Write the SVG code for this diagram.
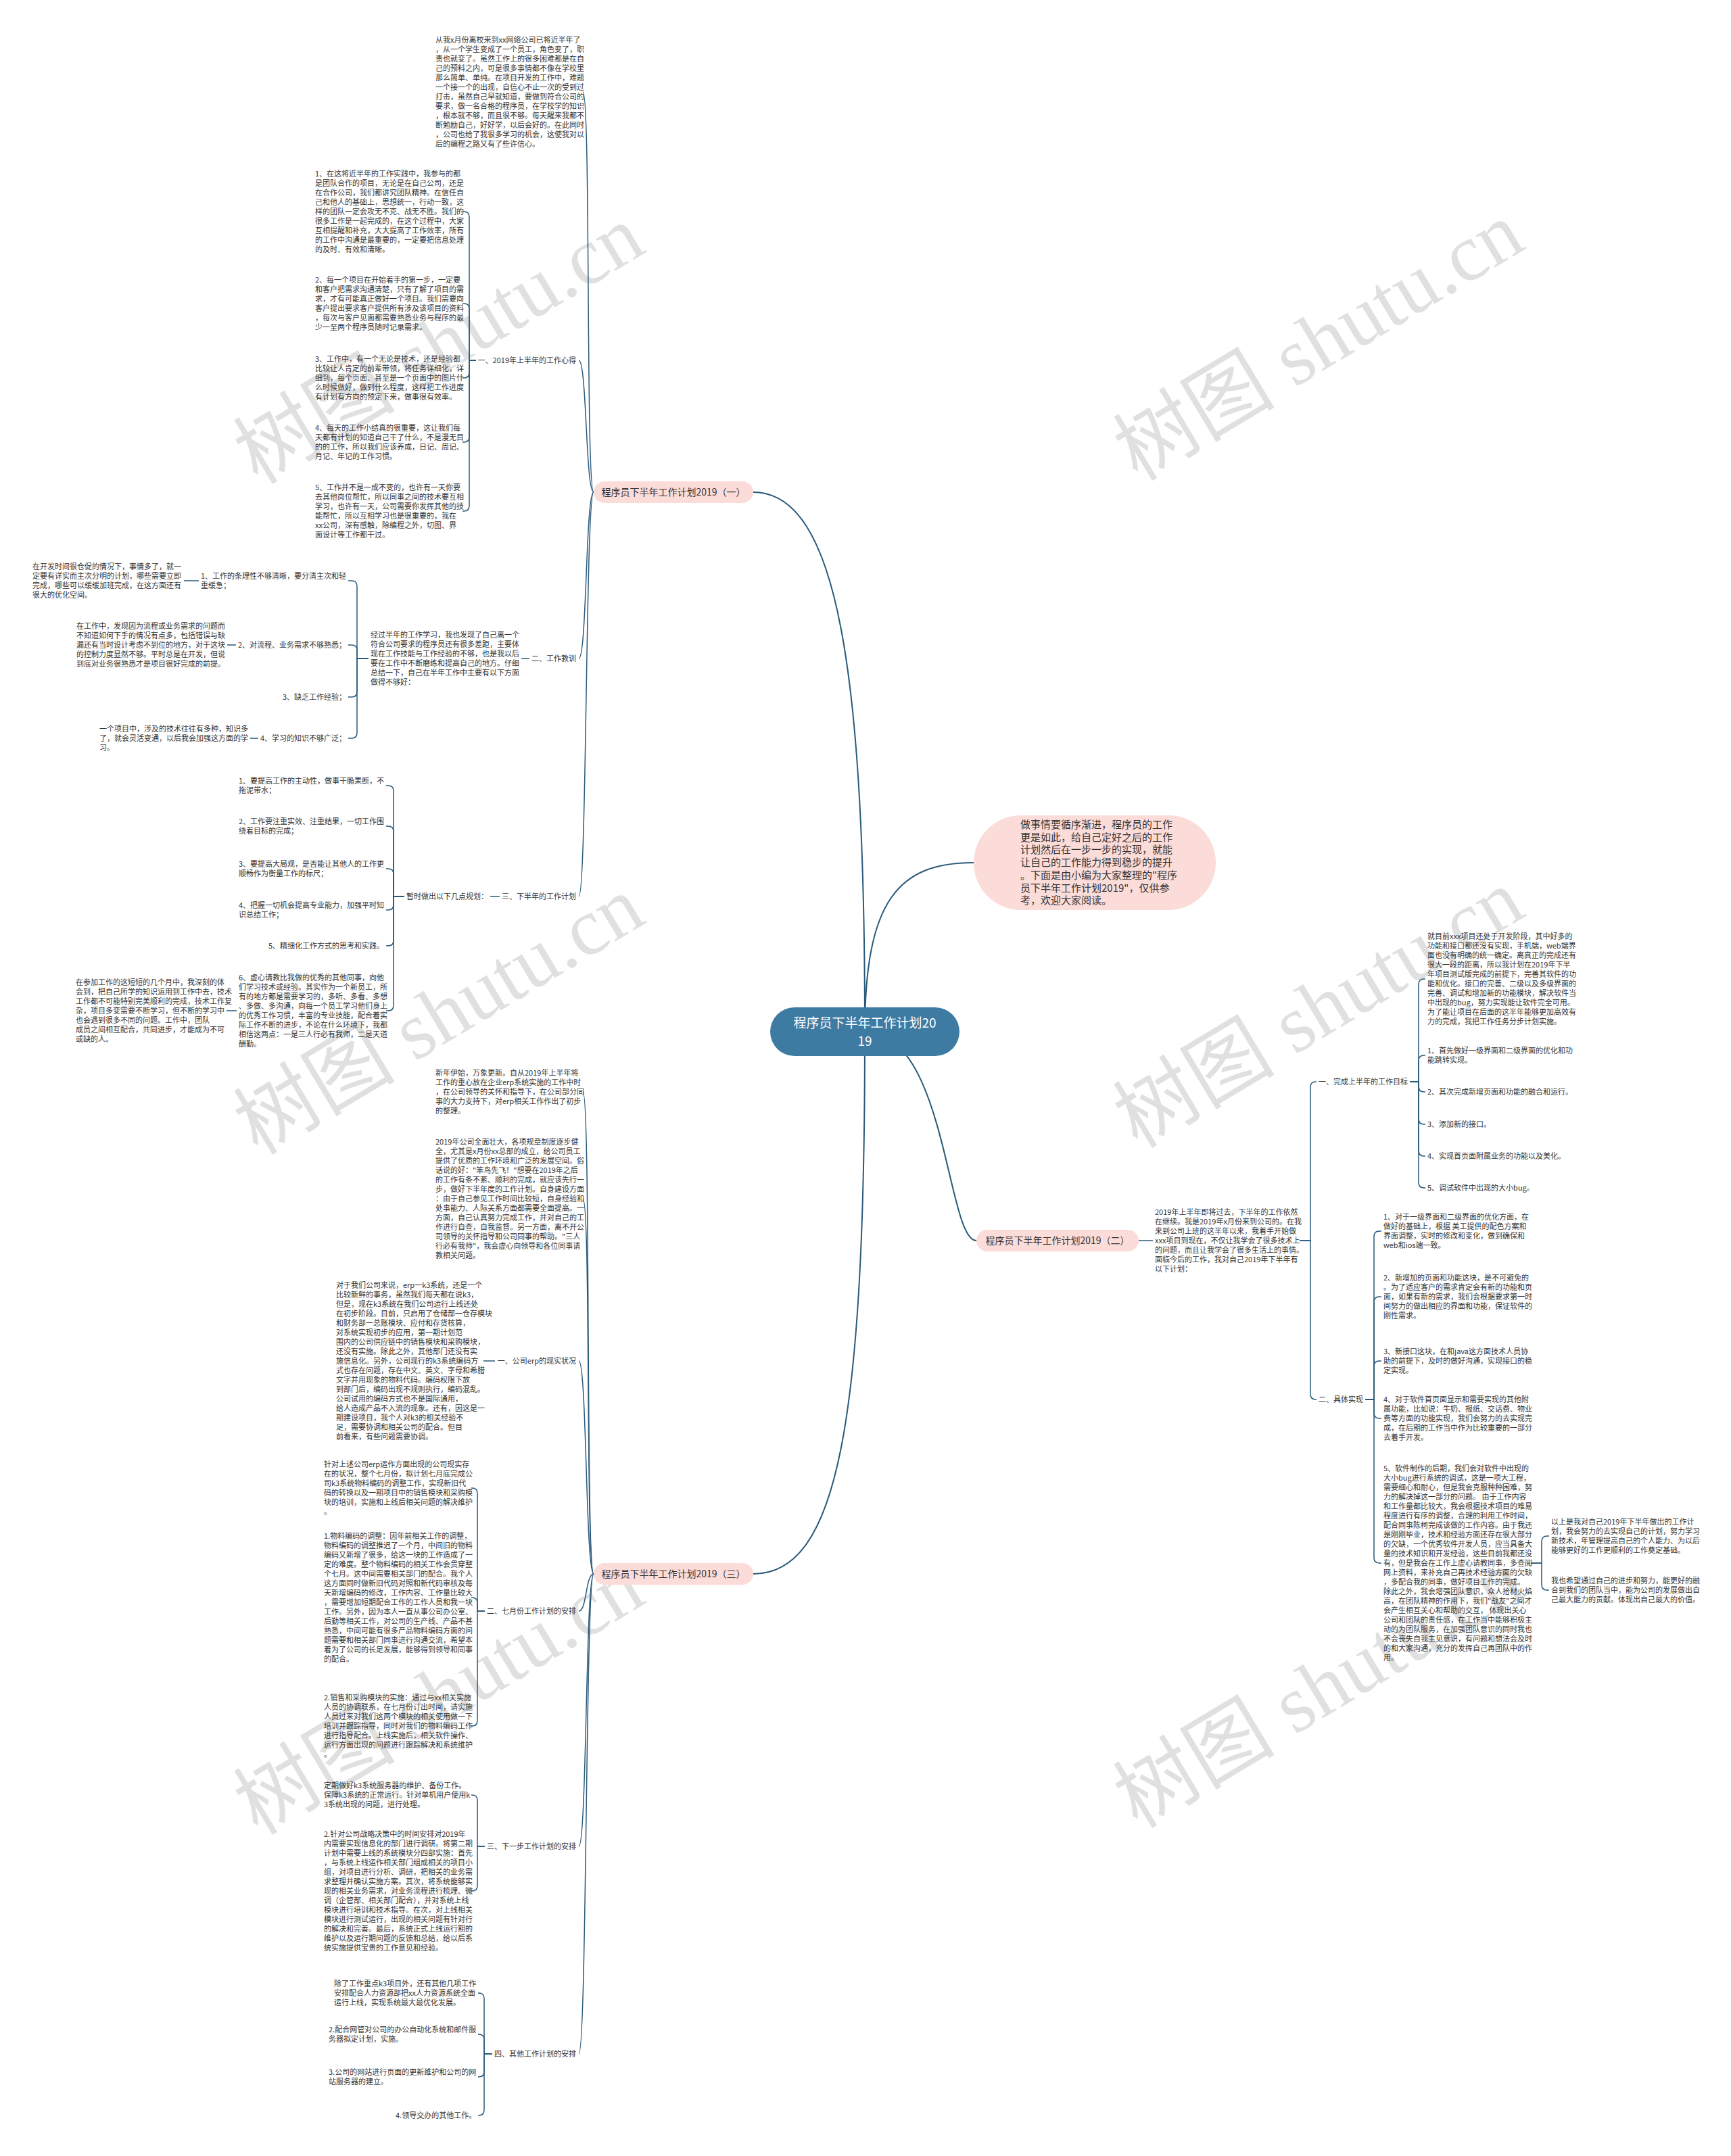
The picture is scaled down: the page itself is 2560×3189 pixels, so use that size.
<svg xmlns="http://www.w3.org/2000/svg" width="2560" height="3189" viewBox="0 0 2560 3189">
<style>
.bg{fill:#ffffff}
.t{font-family:"Noto Sans CJK SC","Noto Sans",sans-serif;font-size:11px;fill:#333333}
.lb{font-family:"Noto Sans CJK SC","Noto Sans",sans-serif;font-size:11px;fill:#333333}
.br{font-family:"Noto Sans CJK SC","Noto Sans",sans-serif;font-size:14px;fill:#333333}
.bt{font-family:"Noto Sans CJK SC","Noto Sans",sans-serif;font-size:15px;fill:#333333}
.ct{font-family:"Noto Sans CJK SC","Noto Sans",sans-serif;font-size:19px;fill:#ffffff}
.pill{fill:#fcdcd8}
.c{fill:none;stroke:#2a5a7a;stroke-width:1.5}
.cm{fill:none;stroke:#2a5a7a;stroke-width:2}
.wm{font-family:"Liberation Serif","Noto Sans CJK SC",serif;font-size:120px;fill:#000000;fill-opacity:0.12}
</style>
<rect class="bg" x="0" y="0" width="2560" height="3189"/>
<g id="watermark">
<text class="wm" x="651" y="550" text-anchor="middle" transform="rotate(-31 651 513)">树图 shutu.cn</text>
<text class="wm" x="1952" y="545" text-anchor="middle" transform="rotate(-31 1952 508)">树图 shutu.cn</text>
<text class="wm" x="651" y="1542" text-anchor="middle" transform="rotate(-31 651 1505)">树图 shutu.cn</text>
<text class="wm" x="1952" y="1532" text-anchor="middle" transform="rotate(-31 1952 1495)">树图 shutu.cn</text>
<text class="wm" x="651" y="2548" text-anchor="middle" transform="rotate(-31 651 2511)">树图 shutu.cn</text>
<text class="wm" x="1952" y="2538" text-anchor="middle" transform="rotate(-31 1952 2501)">树图 shutu.cn</text>
</g>
<g id="connectors">
<path class="cm" d="M1279 1526 C1279 1000 1240 728 1114 728"/>
<path class="cm" d="M1279 1526 C1279 2100 1240 2328 1114 2328"/>
<path class="cm" d="M1279 1526 C1279 1330 1330 1276 1440 1276"/>
<path class="cm" d="M1279 1526 C1400 1526 1400 1835 1444 1835"/>
<path class="c" d="M878 728 C866 728 874 136 862 136"/>
<path class="c" d="M878 728 C866 728 868 533 856 533"/>
<path class="c" d="M878 728 C866 728 868 974 856 974"/>
<path class="c" d="M878 728 C866 728 868 1326 856 1326"/>
<path class="c" d="M704 533 H694 V321 Q694 313 686 313 H684"/>
<path class="c" d="M704 533 H694 V457 Q694 449 686 449 H684"/>
<path class="c" d="M704 533 H694 V551 Q694 559 686 559 H684"/>
<path class="c" d="M704 533 H694 V646 Q694 654 686 654 H684"/>
<path class="c" d="M704 533 H694 V748 Q694 756 686 756 H684"/>
<path class="c" d="M783 974 H771"/>
<path class="c" d="M545 974 H528 V867 Q528 859 520 859 H515"/>
<path class="c" d="M545 974 H528 V962 Q528 954 520 954 H515"/>
<path class="c" d="M545 974 H528 V1023 Q528 1031 520 1031 H515"/>
<path class="c" d="M545 974 H528 V1084 Q528 1092 520 1092 H515"/>
<path class="c" d="M294 859 H272"/>
<path class="c" d="M349 954 H336"/>
<path class="c" d="M382 1092 H370"/>
<path class="c" d="M739 1326 H725"/>
<path class="c" d="M598 1326 H582 V1170 Q582 1162 574 1162 H571"/>
<path class="c" d="M598 1326 H582 V1230 Q582 1222 574 1222 H571"/>
<path class="c" d="M598 1326 H582 V1293 Q582 1285 574 1285 H571"/>
<path class="c" d="M598 1326 H582 V1338 Q582 1346 574 1346 H571"/>
<path class="c" d="M598 1326 H582 V1391 Q582 1399 574 1399 H571"/>
<path class="c" d="M598 1326 H582 V1487 Q582 1495 574 1495 H571"/>
<path class="c" d="M350 1495 H335"/>
<path class="c" d="M878 2328 C866 2328 874 1615 862 1615"/>
<path class="c" d="M878 2328 C866 2328 874 1773 862 1773"/>
<path class="c" d="M878 2328 C866 2328 868 2013 856 2013"/>
<path class="c" d="M878 2328 C866 2328 868 2383 856 2383"/>
<path class="c" d="M878 2328 C866 2328 868 2731 856 2731"/>
<path class="c" d="M878 2328 C866 2328 868 3038 856 3038"/>
<path class="c" d="M732 2013 H715"/>
<path class="c" d="M717 2383 H706 V2209 Q706 2201 698 2201 H697"/>
<path class="c" d="M717 2383 H706 V2371 Q706 2363 698 2363 H697"/>
<path class="c" d="M717 2383 H706 V2545 Q706 2553 698 2553 H697"/>
<path class="c" d="M717 2731 H706 V2663 Q706 2655 698 2655 H697"/>
<path class="c" d="M717 2731 H706 V2789 Q706 2797 698 2797 H697"/>
<path class="c" d="M728 3038 H716 V2956 Q716 2948 708 2948 H707"/>
<path class="c" d="M728 3038 H716 V3017 Q716 3009 708 3009 H707"/>
<path class="c" d="M728 3038 H716 V3064 Q716 3072 708 3072 H707"/>
<path class="c" d="M728 3038 H716 V3121 Q716 3129 708 3129 H707"/>
<path class="c" d="M1684 1835 H1705"/>
<path class="c" d="M1922 1835 H1938 V1608 Q1938 1600 1946 1600 H1947"/>
<path class="c" d="M1922 1835 H1938 V2062 Q1938 2070 1946 2070 H1947"/>
<path class="c" d="M2085 1600 H2098 V1456 Q2098 1448 2106 1448 H2108"/>
<path class="c" d="M2085 1600 H2098 V1569 Q2098 1561 2106 1561 H2108"/>
<path class="c" d="M2085 1600 H2098 V1607 Q2098 1615 2106 1615 H2108"/>
<path class="c" d="M2085 1600 H2098 V1655 Q2098 1663 2106 1663 H2108"/>
<path class="c" d="M2085 1600 H2098 V1702 Q2098 1710 2106 1710 H2108"/>
<path class="c" d="M2085 1600 H2098 V1749 Q2098 1757 2106 1757 H2108"/>
<path class="c" d="M2019 2070 H2032 V1829 Q2032 1821 2040 1821 H2043"/>
<path class="c" d="M2019 2070 H2032 V1926 Q2032 1918 2040 1918 H2043"/>
<path class="c" d="M2019 2070 H2032 V2021 Q2032 2013 2040 2013 H2043"/>
<path class="c" d="M2019 2070 H2032 V2090 Q2032 2098 2040 2098 H2043"/>
<path class="c" d="M2019 2070 H2032 V2304 Q2032 2312 2040 2312 H2043"/>
<path class="c" d="M2264 2312 H2280 V2280 Q2280 2272 2288 2272 H2291"/>
<path class="c" d="M2264 2312 H2280 V2344 Q2280 2352 2288 2352 H2291"/>
</g>
<g id="center">
<rect x="1139" y="1490" width="280" height="72" rx="36" fill="#3e7ba3"/>
<text class="ct" text-anchor="middle"><tspan x="1279" y="1520">程序员下半年工作计划20</tspan><tspan x="1279" y="1547">19</tspan></text>
</g>
<g id="intro">
<rect class="pill" x="1440" y="1206" width="358" height="140" rx="70"/>
<text class="bt"><tspan x="1509" y="1225">做事情要循序渐进，程序员的工作</tspan><tspan x="1509" dy="18.7">更是如此，给自己定好之后的工作</tspan><tspan x="1509" dy="18.7">计划然后在一步一步的实现，就能</tspan><tspan x="1509" dy="18.7">让自己的工作能力得到稳步的提升</tspan><tspan x="1509" dy="18.7">。下面是由小编为大家整理的"程序</tspan><tspan x="1509" dy="18.7">员下半年工作计划2019"，仅供参</tspan><tspan x="1509" dy="18.7">考，欢迎大家阅读。</tspan></text>
</g>
<g id="branch1">
<rect class="pill" x="878" y="712" width="236" height="32" rx="16"/>
<text class="br" x="996" y="733" text-anchor="middle">程序员下半年工作计划2019（一）</text>
</g>
<g id="b1-intro">
<text class="t"><tspan x="644" y="63">从我x月份离校来到xx网络公司已将近半年了</tspan><tspan x="644" dy="14">，从一个学生变成了一个员工，角色变了，职</tspan><tspan x="644" dy="14">责也就变了。虽然工作上的很多困难都是在自</tspan><tspan x="644" dy="14">己的预料之内，可是很多事情都不像在学校里</tspan><tspan x="644" dy="14">那么简单、单纯。在项目开发的工作中，难题</tspan><tspan x="644" dy="14">一个接一个的出现，自信心不止一次的受到过</tspan><tspan x="644" dy="14">打击，虽然自己早就知道，要做到符合公司的</tspan><tspan x="644" dy="14">要求，做一名合格的程序员，在学校学的知识</tspan><tspan x="644" dy="14">，根本就不够，而且很不够。每天醒来我都不</tspan><tspan x="644" dy="14">断勉励自己，好好学，以后会好的。在此同时</tspan><tspan x="644" dy="14">，公司也给了我很多学习的机会，这使我对以</tspan><tspan x="644" dy="14">后的编程之路又有了些许信心。</tspan></text>
</g>
<g id="b1-s1">
<text class="lb" x="852" y="537" text-anchor="end">一、2019年上半年的工作心得</text>
</g>
<g id="b1-s1-i1"><text class="t"><tspan x="466" y="261">1、在这将近半年的工作实践中，我参与的都</tspan><tspan x="466" dy="14">是团队合作的项目，无论是在自己公司，还是</tspan><tspan x="466" dy="14">在合作公司，我们都讲究团队精神。在信任自</tspan><tspan x="466" dy="14">己和他人的基础上，思想统一，行动一致，这</tspan><tspan x="466" dy="14">样的团队一定会攻无不克、战无不胜。我们的</tspan><tspan x="466" dy="14">很多工作是一起完成的，在这个过程中，大家</tspan><tspan x="466" dy="14">互相提醒和补充，大大提高了工作效率，所有</tspan><tspan x="466" dy="14">的工作中沟通是最重要的，一定要把信息处理</tspan><tspan x="466" dy="14">的及时、有效和清晰。</tspan></text></g>
<g id="b1-s1-i2"><text class="t"><tspan x="466" y="418">2、每一个项目在开始着手的第一步，一定要</tspan><tspan x="466" dy="14">和客户把需求沟通清楚，只有了解了项目的需</tspan><tspan x="466" dy="14">求，才有可能真正做好一个项目。我们需要向</tspan><tspan x="466" dy="14">客户提出要求客户提供所有涉及该项目的资料</tspan><tspan x="466" dy="14">，每次与客户见面都需要熟悉业务与程序的最</tspan><tspan x="466" dy="14">少一至两个程序员随时记录需求。</tspan></text></g>
<g id="b1-s1-i3"><text class="t"><tspan x="466" y="535">3、工作中，有一个无论是技术，还是经验都</tspan><tspan x="466" dy="14">比较让人肯定的前辈带领，将任务详细化，详</tspan><tspan x="466" dy="14">细到，每个页面、甚至是一个页面中的图片什</tspan><tspan x="466" dy="14">么时候做好，做到什么程度，这样把工作进度</tspan><tspan x="466" dy="14">有计划有方向的预定下来，做事很有效率。</tspan></text></g>
<g id="b1-s1-i4"><text class="t"><tspan x="466" y="637">4、每天的工作小结真的很重要，这让我们每</tspan><tspan x="466" dy="14">天都有计划的知道自己干了什么，不是漫无目</tspan><tspan x="466" dy="14">的的工作，所以我们应该养成，日记、周记、</tspan><tspan x="466" dy="14">月记、年记的工作习惯。</tspan></text></g>
<g id="b1-s1-i5"><text class="t"><tspan x="466" y="725">5、工作并不是一成不变的，也许有一天你要</tspan><tspan x="466" dy="14">去其他岗位帮忙，所以同事之间的技术要互相</tspan><tspan x="466" dy="14">学习，也许有一天，公司需要你发挥其他的技</tspan><tspan x="466" dy="14">能帮忙，所以互相学习也是很重要的，我在</tspan><tspan x="466" dy="14">xx公司，深有感触，除编程之外，切图、界</tspan><tspan x="466" dy="14">面设计等工作都干过。</tspan></text></g>
<g id="b1-s2"><text class="lb" x="852" y="978" text-anchor="end">二、工作教训</text></g>
<g id="b1-s2-p"><text class="t"><tspan x="548" y="943">经过半年的工作学习，我也发现了自己离一个</tspan><tspan x="548" dy="14">符合公司要求的程序员还有很多差距，主要体</tspan><tspan x="548" dy="14">现在工作技能与工作经验的不够，也是我以后</tspan><tspan x="548" dy="14">要在工作中不断磨练和提高自己的地方。仔细</tspan><tspan x="548" dy="14">总结一下，自己在半年工作中主要有以下方面</tspan><tspan x="548" dy="14">做得不够好：</tspan></text></g>
<g id="b1-s2-j1"><text class="t"><tspan x="297" y="856">1、工作的条理性不够清晰，要分清主次和轻</tspan><tspan x="297" dy="14">重缓急；</tspan></text></g>
<g id="b1-s2-c1"><text class="t"><tspan x="48" y="842">在开发时间很仓促的情况下，事情多了，就一</tspan><tspan x="48" dy="14">定要有详实而主次分明的计划，哪些需要立即</tspan><tspan x="48" dy="14">完成，哪些可以缓缓加班完成，在这方面还有</tspan><tspan x="48" dy="14">很大的优化空间。</tspan></text></g>
<g id="b1-s2-j2"><text class="t" x="352" y="958">2、对流程、业务需求不够熟悉；</text></g>
<g id="b1-s2-c2"><text class="t"><tspan x="113" y="930">在工作中，发现因为流程或业务需求的问题而</tspan><tspan x="113" dy="14">不知道如何下手的情况有点多，包括错误与缺</tspan><tspan x="113" dy="14">漏还有当时设计考虑不到位的地方，对于这块</tspan><tspan x="113" dy="14">的控制力度显然不够。平时总是在开发，但说</tspan><tspan x="113" dy="14">到底对业务很熟悉才是项目很好完成的前提。</tspan></text></g>
<g id="b1-s2-j3"><text class="t" x="418" y="1035">3、缺乏工作经验；</text></g>
<g id="b1-s2-j4"><text class="t" x="385" y="1096">4、学习的知识不够广泛；</text></g>
<g id="b1-s2-c4"><text class="t"><tspan x="147" y="1082">一个项目中，涉及的技术往往有多种，知识多</tspan><tspan x="147" dy="14">了，就会灵活变通，以后我会加强这方面的学</tspan><tspan x="147" dy="14">习。</tspan></text></g>
<g id="b1-s3"><text class="lb" x="852" y="1330" text-anchor="end">三、下半年的工作计划</text></g>
<g id="b1-s3-q"><text class="t" x="722" y="1330" text-anchor="end">暂时做出以下几点规划：</text></g>
<g id="b1-s3-k1"><text class="t"><tspan x="353" y="1159">1、要提高工作的主动性，做事干脆果断，不</tspan><tspan x="353" dy="14">拖泥带水；</tspan></text></g>
<g id="b1-s3-k2"><text class="t"><tspan x="353" y="1219">2、工作要注重实效、注重结果，一切工作围</tspan><tspan x="353" dy="14">绕着目标的完成；</tspan></text></g>
<g id="b1-s3-k3"><text class="t"><tspan x="353" y="1282">3、要提高大局观，是否能让其他人的工作更</tspan><tspan x="353" dy="14">顺畅作为衡量工作的标尺；</tspan></text></g>
<g id="b1-s3-k4"><text class="t"><tspan x="353" y="1343">4、把握一切机会提高专业能力，加强平时知</tspan><tspan x="353" dy="14">识总结工作；</tspan></text></g>
<g id="b1-s3-k5"><text class="t" x="397" y="1403">5、精细化工作方式的思考和实践。</text></g>
<g id="b1-s3-k6"><text class="t"><tspan x="353" y="1450">6、虚心请教比我做的优秀的其他同事，向他</tspan><tspan x="353" dy="14">们学习技术或经验。其实作为一个新员工，所</tspan><tspan x="353" dy="14">有的地方都是需要学习的，多听、多看、多想</tspan><tspan x="353" dy="14">、多做、多沟通，向每一个员工学习他们身上</tspan><tspan x="353" dy="14">的优秀工作习惯，丰富的专业技能，配合着实</tspan><tspan x="353" dy="14">际工作不断的进步，不论在什么环境下，我都</tspan><tspan x="353" dy="14">相信这两点：一是三人行必有我师，二是天道</tspan><tspan x="353" dy="14">酬勤。</tspan></text></g>
<g id="b1-s3-d"><text class="t"><tspan x="112" y="1457">在参加工作的这短短的几个月中，我深刻的体</tspan><tspan x="112" dy="14">会到，把自己所学的知识运用到工作中去，技术</tspan><tspan x="112" dy="14">工作都不可能特别完美顺利的完成，技术工作复</tspan><tspan x="112" dy="14">杂，项目多变需要不断学习，但不断的学习中</tspan><tspan x="112" dy="14">也会遇到很多不同的问题。工作中，团队</tspan><tspan x="112" dy="14">成员之间相互配合，共同进步，才能成为不可</tspan><tspan x="112" dy="14">或缺的人。</tspan></text></g>
<g id="branch3">
<rect class="pill" x="878" y="2312" width="236" height="32" rx="16"/>
<text class="br" x="996" y="2333" text-anchor="middle">程序员下半年工作计划2019（三）</text>
</g>
<g id="b3-p1"><text class="t"><tspan x="644" y="1591">新年伊始，万象更新。自从2019年上半年将</tspan><tspan x="644" dy="14">工作的重心放在企业erp系统实施的工作中时</tspan><tspan x="644" dy="14">，在公司领导的关怀和指导下，在公司部分同</tspan><tspan x="644" dy="14">事的大力支持下，对erp相关工作作出了初步</tspan><tspan x="644" dy="14">的整理。</tspan></text></g>
<g id="b3-p2"><text class="t"><tspan x="644" y="1693">2019年公司全面壮大，各项规章制度逐步健</tspan><tspan x="644" dy="14">全，尤其是x月份xx总部的成立，给公司员工</tspan><tspan x="644" dy="14">提供了优质的工作环境和广泛的发展空间。俗</tspan><tspan x="644" dy="14">话说的好："笨鸟先飞！"想要在2019年之后</tspan><tspan x="644" dy="14">的工作有条不紊、顺利的完成，就应该先行一</tspan><tspan x="644" dy="14">步，做好下半年度的工作计划。自身建设方面</tspan><tspan x="644" dy="14">：由于自己参见工作时间比较短，自身经验和</tspan><tspan x="644" dy="14">处事能力、人际关系方面都需要全面提高。一</tspan><tspan x="644" dy="14">方面，自己认真努力完成工作，并对自己的工</tspan><tspan x="644" dy="14">作进行自查，自我监督。另一方面，离不开公</tspan><tspan x="644" dy="14">司领导的关怀指导和公司同事的帮助。"三人</tspan><tspan x="644" dy="14">行必有我师"，我会虚心向领导和各位同事请</tspan><tspan x="644" dy="14">教相关问题。</tspan></text></g>
<g id="b3-s1"><text class="lb" x="852" y="2017" text-anchor="end">一、公司erp的现实状况</text></g>
<g id="b3-s1-erp"><text class="t"><tspan x="497" y="1905">对于我们公司来说，erp一k3系统，还是一个</tspan><tspan x="497" dy="14">比较新鲜的事务，虽然我们每天都在说k3，</tspan><tspan x="497" dy="14">但是，现在k3系统在我们公司运行上线还处</tspan><tspan x="497" dy="14">在初步阶段。目前，只启用了仓储部一仓存模块</tspan><tspan x="497" dy="14">和财务部一总账模块、应付和存货核算，</tspan><tspan x="497" dy="14">对系统实现初步的应用，第一期计划范</tspan><tspan x="497" dy="14">围内的公司供应链中的销售模块和采购模块，</tspan><tspan x="497" dy="14">还没有实施。除此之外，其他部门还没有实</tspan><tspan x="497" dy="14">施信息化。另外，公司现行的k3系统编码方</tspan><tspan x="497" dy="14">式也存在问题，存在中文、英文、字母和希腊</tspan><tspan x="497" dy="14">文字并用现象的物料代码。编码权限下放</tspan><tspan x="497" dy="14">到部门后，编码出现不规则执行，编码混乱。</tspan><tspan x="497" dy="14">公司试用的编码方式也不是国际通用，</tspan><tspan x="497" dy="14">给人造成产品不入流的现象。还有，因这是一</tspan><tspan x="497" dy="14">期建设项目，我个人对k3的相关经验不</tspan><tspan x="497" dy="14">足，需要协调和相关公司的配合。但目</tspan><tspan x="497" dy="14">前看来，有些问题需要协调。</tspan></text></g>
<g id="b3-s2"><text class="lb" x="852" y="2387" text-anchor="end">二、七月份工作计划的安排</text></g>
<g id="b3-s2-m1"><text class="t"><tspan x="479" y="2170">针对上述公司erp运作方面出现的公司现实存</tspan><tspan x="479" dy="14">在的状况，整个七月份，拟计划七月底完成公</tspan><tspan x="479" dy="14">司k3系统物料编码的调整工作，实现新旧代</tspan><tspan x="479" dy="14">码的转换以及一期项目中的销售模块和采购模</tspan><tspan x="479" dy="14">块的培训，实施和上线后相关问题的解决维护</tspan><tspan x="479" dy="14">。</tspan></text></g>
<g id="b3-s2-m2"><text class="t"><tspan x="479" y="2276">1.物料编码的调整：因年前相关工作的调整，</tspan><tspan x="479" dy="14">物料编码的调整推迟了一个月，中间旧的物料</tspan><tspan x="479" dy="14">编码又新增了很多，给这一块的工作造成了一</tspan><tspan x="479" dy="14">定的难度。整个物料编码的相关工作会贯穿整</tspan><tspan x="479" dy="14">个七月。这中间需要相关部门的配合。我个人</tspan><tspan x="479" dy="14">这方面同时做新旧代码对照和新代码审核及每</tspan><tspan x="479" dy="14">天新增编码的修改，工作内容、工作量比较大</tspan><tspan x="479" dy="14">，需要增加短期配合工作的工作人员和我一块</tspan><tspan x="479" dy="14">工作。另外，因为本人一直从事公司办公室、</tspan><tspan x="479" dy="14">后勤等相关工作，对公司的生产线、产品不甚</tspan><tspan x="479" dy="14">熟悉，中间可能有很多产品物料编码方面的问</tspan><tspan x="479" dy="14">题需要和相关部门同事进行沟通交流，希望本</tspan><tspan x="479" dy="14">着为了公司的长足发展，能够得到领导和同事</tspan><tspan x="479" dy="14">的配合。</tspan></text></g>
<g id="b3-s2-m3"><text class="t"><tspan x="479" y="2515">2.销售和采购模块的实施：通过与xx相关实施</tspan><tspan x="479" dy="14">人员的协调联系，在七月份订出时间，请实施</tspan><tspan x="479" dy="14">人员过来对我们这两个模块的相关使用做一下</tspan><tspan x="479" dy="14">培训并跟踪指导，同时对我们的物料编码工作</tspan><tspan x="479" dy="14">进行指导配合。上线实施后，相关软件操作、</tspan><tspan x="479" dy="14">运行方面出现的问题进行跟踪解决和系统维护</tspan><tspan x="479" dy="14">。</tspan></text></g>
<g id="b3-s3"><text class="lb" x="852" y="2735" text-anchor="end">三、下一步工作计划的安排</text></g>
<g id="b3-s3-n1"><text class="t"><tspan x="479" y="2645">定期做好k3系统服务器的维护、备份工作。</tspan><tspan x="479" dy="14">保障k3系统的正常运行。针对单机用户使用k</tspan><tspan x="479" dy="14">3系统出现的问题，进行处理。</tspan></text></g>
<g id="b3-s3-n2"><text class="t"><tspan x="479" y="2717">2.针对公司战略决策中的时间安排对2019年</tspan><tspan x="479" dy="14">内需要实现信息化的部门进行调研。将第二期</tspan><tspan x="479" dy="14">计划中需要上线的系统模块分四部实施：首先</tspan><tspan x="479" dy="14">，与系统上线运作相关部门组成相关的项目小</tspan><tspan x="479" dy="14">组，对项目进行分析、调研，把相关的业务需</tspan><tspan x="479" dy="14">求整理并确认实施方案。其次，将系统能够实</tspan><tspan x="479" dy="14">现的相关业务需求，对业务流程进行梳理、微</tspan><tspan x="479" dy="14">调（企管部、相关部门配合），并对系统上线</tspan><tspan x="479" dy="14">模块进行培训和技术指导。在次，对上线相关</tspan><tspan x="479" dy="14">模块进行测试运行，出现的相关问题有针对行</tspan><tspan x="479" dy="14">的解决和完善。最后，系统正式上线运行期的</tspan><tspan x="479" dy="14">维护以及运行期问题的反馈和总结，给以后系</tspan><tspan x="479" dy="14">统实施提供宝贵的工作意见和经验。</tspan></text></g>
<g id="b3-s4"><text class="lb" x="852" y="3042" text-anchor="end">四、其他工作计划的安排</text></g>
<g id="b3-s4-o1"><text class="t"><tspan x="494" y="2938">除了工作重点k3项目外，还有其他几项工作</tspan><tspan x="494" dy="14">安排配合人力资源部把xx人力资源系统全面</tspan><tspan x="494" dy="14">运行上线，实现系统最大最优化发展。</tspan></text></g>
<g id="b3-s4-o2"><text class="t"><tspan x="486" y="3006">2.配合网管对公司的办公自动化系统和邮件服</tspan><tspan x="486" dy="14">务器拟定计划，实施。</tspan></text></g>
<g id="b3-s4-o3"><text class="t"><tspan x="486" y="3069">3.公司的网站进行页面的更新维护和公司的网</tspan><tspan x="486" dy="14">站服务器的建立。</tspan></text></g>
<g id="b3-s4-o4"><text class="t" x="585" y="3133">4.领导交办的其他工作。</text></g>
<g id="branch2">
<rect class="pill" x="1444" y="1819" width="240" height="32" rx="16"/>
<text class="br" x="1564" y="1840" text-anchor="middle">程序员下半年工作计划2019（二）</text>
</g>
<g id="b2-p"><text class="t"><tspan x="1708" y="1797">2019年上半年即将过去，下半年的工作依然</tspan><tspan x="1708" dy="14">在继续。我是2019年x月份来到公司的。在我</tspan><tspan x="1708" dy="14">来到公司上班的这半年以来，我着手开始做</tspan><tspan x="1708" dy="14">xxx项目到现在，不仅让我学会了很多技术上</tspan><tspan x="1708" dy="14">的问题，而且让我学会了很多生活上的事情。</tspan><tspan x="1708" dy="14">面临今后的工作，我对自己2019年下半年有</tspan><tspan x="1708" dy="14">以下计划：</tspan></text></g>
<g id="b2-s1"><text class="lb" x="1950" y="1604">一、完成上半年的工作目标</text></g>
<g id="b2-s1-r0"><text class="t"><tspan x="2111" y="1389">就目前xxx项目还处于开发阶段，其中好多的</tspan><tspan x="2111" dy="14">功能和接口都还没有实现，手机端，web端界</tspan><tspan x="2111" dy="14">面也没有明确的统一确定。离真正的完成还有</tspan><tspan x="2111" dy="14">很大一段的距离，所以我计划在2019年下半</tspan><tspan x="2111" dy="14">年项目测试版完成的前提下，完善其软件的功</tspan><tspan x="2111" dy="14">能和优化。接口的完善、二级以及多级界面的</tspan><tspan x="2111" dy="14">完善、调试和增加新的功能模块，解决软件当</tspan><tspan x="2111" dy="14">中出现的bug，努力实现能让软件完全可用。</tspan><tspan x="2111" dy="14">为了能让项目在后面的这半年能够更加高效有</tspan><tspan x="2111" dy="14">力的完成，我把工作任务分步计划实施。</tspan></text></g>
<g id="b2-s1-r1"><text class="t"><tspan x="2111" y="1558">1、首先做好一级界面和二级界面的优化和功</tspan><tspan x="2111" dy="14">能跳转实现。</tspan></text></g>
<g id="b2-s1-r2"><text class="t" x="2111" y="1619">2、其次完成新增页面和功能的融合和运行。</text></g>
<g id="b2-s1-r3"><text class="t" x="2111" y="1667">3、添加新的接口。</text></g>
<g id="b2-s1-r4"><text class="t" x="2111" y="1714">4、实现首页面附属业务的功能以及美化。</text></g>
<g id="b2-s1-r5"><text class="t" x="2111" y="1761">5、调试软件中出现的大小bug。</text></g>
<g id="b2-s2"><text class="lb" x="1950" y="2074">二、具体实现</text></g>
<g id="b2-s2-s1"><text class="t"><tspan x="2046" y="1804">1、对于一级界面和二级界面的优化方面，在</tspan><tspan x="2046" dy="14">做好的基础上，根据 美工提供的配色方案和</tspan><tspan x="2046" dy="14">界面调整，实时的修改和变化，做到确保和</tspan><tspan x="2046" dy="14">web和ios端一致。</tspan></text></g>
<g id="b2-s2-s2"><text class="t"><tspan x="2046" y="1894">2、新增加的页面和功能这块，是不可避免的</tspan><tspan x="2046" dy="14">。为了适应客户的需求肯定会有新的功能和页</tspan><tspan x="2046" dy="14">面，如果有新的需求，我们会根据要求第一时</tspan><tspan x="2046" dy="14">间努力的做出相应的界面和功能，保证软件的</tspan><tspan x="2046" dy="14">刚性需求。</tspan></text></g>
<g id="b2-s2-s3"><text class="t"><tspan x="2046" y="2003">3、新接口这块，在和java这方面技术人员协</tspan><tspan x="2046" dy="14">助的前提下，及时的做好沟通，实现接口的稳</tspan><tspan x="2046" dy="14">定实现。</tspan></text></g>
<g id="b2-s2-s4"><text class="t"><tspan x="2046" y="2074">4、对于软件首页面显示和需要实现的其他附</tspan><tspan x="2046" dy="14">属功能，比如说：牛奶、报纸、交话费、物业</tspan><tspan x="2046" dy="14">费等方面的功能实现，我们会努力的去实现完</tspan><tspan x="2046" dy="14">成，在后期的工作当中作为比较重要的一部分</tspan><tspan x="2046" dy="14">去着手开发。</tspan></text></g>
<g id="b2-s2-s5"><text class="t"><tspan x="2046" y="2176">5、软件制作的后期，我们会对软件中出现的</tspan><tspan x="2046" dy="14">大小bug进行系统的调试，这是一项大工程，</tspan><tspan x="2046" dy="14">需要细心和耐心，但是我会克服种种困难，努</tspan><tspan x="2046" dy="14">力的解决掉这一部分的问题。 由于工作内容</tspan><tspan x="2046" dy="14">和工作量都比较大，我会根据技术项目的难易</tspan><tspan x="2046" dy="14">程度进行有序的调整，合理的利用工作时间，</tspan><tspan x="2046" dy="14">配合同事陈柯完成该做的工作内容。由于我还</tspan><tspan x="2046" dy="14">是刚刚毕业，技术和经验方面还存在很大部分</tspan><tspan x="2046" dy="14">的欠缺，一个优秀软件开发人员，应当具备大</tspan><tspan x="2046" dy="14">量的技术知识和开发经验，这些目前我都还没</tspan><tspan x="2046" dy="14">有，但是我会在工作上虚心请教同事，多查阅</tspan><tspan x="2046" dy="14">网上资料，来补充自己再技术经验方面的欠缺</tspan><tspan x="2046" dy="14">，多配合我的同事，做好项目工作的完成。</tspan><tspan x="2046" dy="14">除此之外，我会增强团队意识，众人拾材火焰</tspan><tspan x="2046" dy="14">高，在团队精神的作用下，我们"战友"之间才</tspan><tspan x="2046" dy="14">会产生相互关心和帮助的交互， 体现出关心</tspan><tspan x="2046" dy="14">公司和团队的责任感，在工作当中能够积极主</tspan><tspan x="2046" dy="14">动的为团队服务，在加强团队意识的同时我也</tspan><tspan x="2046" dy="14">不会丧失自我主见意识，有问题和想法会及时</tspan><tspan x="2046" dy="14">的和大家沟通，充分的发挥自己再团队中的作</tspan><tspan x="2046" dy="14">用。</tspan></text></g>
<g id="b2-s2-t1"><text class="t"><tspan x="2294" y="2255">以上是我对自己2019年下半年做出的工作计</tspan><tspan x="2294" dy="14">划，我会努力的去实现自己的计划，努力学习</tspan><tspan x="2294" dy="14">新技术，年管理提高自己的个人能力、为以后</tspan><tspan x="2294" dy="14">能够更好的工作更顺利的工作奠定基础。</tspan></text></g>
<g id="b2-s2-t2"><text class="t"><tspan x="2294" y="2342">我也希望通过自己的进步和努力，能更好的融</tspan><tspan x="2294" dy="14">合到我们的团队当中，能为公司的发展做出自</tspan><tspan x="2294" dy="14">己最大能力的贡献。体现出自己最大的价值。</tspan></text></g>
</svg>
